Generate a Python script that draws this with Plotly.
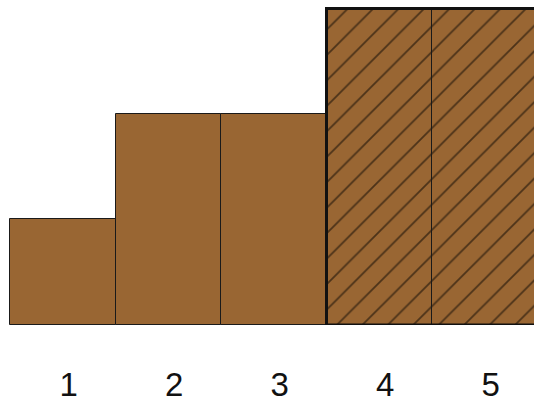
import plotly.graph_objects as go

categories = [1, 2, 3, 4, 5]
values = [1, 2, 2, 3, 3]
hatched = [False, False, False, True, True]
tick_labels = ["1", "2", "3", "4", "5"]

bar_color = "#996633"

fig = go.Figure()
fig.add_trace(go.Bar(
    x=categories, y=values, width=1,
    marker=dict(
        color=bar_color,
        line=dict(color="#1a1a1a", width=1),
        pattern=dict(
            shape=["/" if h else "" for h in hatched],
            fgcolor="#000000", bgcolor=bar_color, size=18, solidity=0.1,
        ),
    ),
    hoverinfo="skip",
))

# thick outline around the hatched group
hx = [c for c, h in zip(categories, hatched) if h]
hv = [v for v, h in zip(values, hatched) if h]
x0, x1 = min(hx) - 0.5, max(hx) + 0.5
top = max(hv)
fig.add_trace(go.Scatter(
    x=[x0, x0, x1, x1, x0], y=[0, top, top, 0, 0], mode="lines",
    line=dict(color="#111111", width=3), hoverinfo="skip", cliponaxis=True,
))

fig.update_layout(
    width=534, height=407,
    margin=dict(l=0, r=0, t=0, b=82),
    plot_bgcolor="white", paper_bgcolor="white",
    showlegend=False, bargap=0,
    font=dict(family="Liberation Sans, Arial, sans-serif", size=33, color="#111111"),
    xaxis=dict(range=[0.405, 5.467], tickvals=categories, ticktext=tick_labels,
               showgrid=False, zeroline=False, showline=False, automargin=False,
               ticks="outside", ticklen=30, tickcolor="rgba(0,0,0,0)",
               ticklabelshift=6),
    yaxis=dict(range=[0, 3.08], visible=False, automargin=False),
)
fig.write_html("out.html", config={"displayModeBar": False},
               post_script="document.body.style.margin='0';document.body.style.overflow='hidden';")
